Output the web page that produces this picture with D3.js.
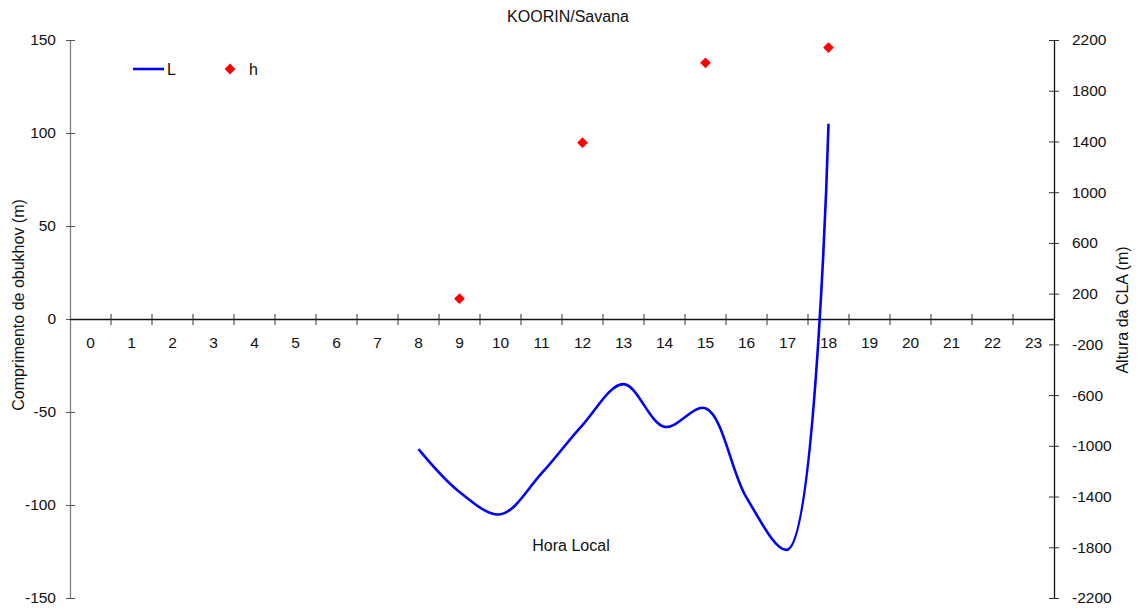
<!DOCTYPE html>
<html>
<head>
<meta charset="utf-8">
<script src="https://cdn.jsdelivr.net/npm/d3@7"></script>
<style>
  html, body { margin: 0; padding: 0; background: #fff; }
  svg { display: block; font-family: "Liberation Sans", Arial, sans-serif; }
</style>
</head>
<body>
<div id="chart"></div>
<script>
const width = 1138;
const height = 609;

// hours on the category axis
const hours = d3.range(0, 24).map(String);

// Obukhov length L (m), left axis
const lHours = ['8', '9', '10', '11', '12', '13', '14', '15', '16', '17', '18'];
const lValues = [-70, -93, -105, -83, -57, -35, -58, -48, -96, -124, 105];

// boundary layer height h (m), right axis
const hHours = ['9', '12', '15', '18'];
const hValues = [160, 1390, 2020, 2140];

const leftTicks = [-150, -100, -50, 0, 50, 100, 150];
const rightTicks = [-2200, -1800, -1400, -1000, -600, -200, 200, 600, 1000, 1400, 1800, 2200];

const plot = { left: 70, right: 1054, top: 40, bottom: 598 };
const tickFont = 15.5;
const labelFont = 16;

const svg = d3.select('#chart')
  .append('svg')
  .attr('width', width)
  .attr('height', height);

const x = d3.scaleBand()
  .domain(hours)
  .range([plot.left, plot.right])
  .padding(0);

const yL = d3.scaleLinear()
  .domain([-150, 150])
  .range([plot.bottom, plot.top]);

const yR = d3.scaleLinear()
  .domain([-2200, 2200])
  .range([plot.bottom, plot.top]);

const cx = h => x(h) + x.bandwidth() / 2;
const plain = d => String(d);

// left axis
const leftAxis = svg.append('g')
  .attr('transform', `translate(${plot.left},0)`)
  .call(d3.axisLeft(yL).tickValues(leftTicks).tickFormat(plain).tickSizeOuter(0).tickPadding(8));
leftAxis.select('.domain').attr('stroke', '#7f7f7f').attr('stroke-width', 1.3);
leftAxis.selectAll('.tick line').attr('x1', 5).attr('x2', -4).attr('stroke', '#555');
leftAxis.selectAll('.tick text')
  .attr('font-size', tickFont)
  .attr('fill', '#111')
  .attr('font-family', '"Liberation Sans", Arial, sans-serif');

// right axis
const rightAxis = svg.append('g')
  .attr('transform', `translate(${plot.right},0)`)
  .call(d3.axisRight(yR).tickValues(rightTicks).tickFormat(plain).tickSizeOuter(0).tickPadding(12));
rightAxis.select('.domain').attr('stroke', '#111').attr('stroke-width', 1.3);
rightAxis.selectAll('.tick line').attr('x1', -5).attr('x2', 5).attr('stroke', '#333');
rightAxis.selectAll('.tick text')
  .attr('font-size', tickFont)
  .attr('fill', '#111')
  .attr('font-family', '"Liberation Sans", Arial, sans-serif');

// category axis at L = 0
const y0 = yL(0);
const xAxis = svg.append('g')
  .attr('transform', `translate(0,${y0})`)
  .call(d3.axisBottom(x).tickSize(0).tickPadding(18));
xAxis.select('.domain').attr('stroke', '#111').attr('stroke-width', 1.3);
xAxis.selectAll('.tick text')
  .attr('font-size', tickFont)
  .attr('fill', '#111')
  .attr('font-family', '"Liberation Sans", Arial, sans-serif');

// category boundary ticks
xAxis.selectAll('.bound')
  .data(hours.slice(1))
  .enter()
  .append('line')
  .attr('class', 'bound')
  .attr('x1', d => x(d))
  .attr('x2', d => x(d))
  .attr('y1', -5)
  .attr('y2', 6)
  .attr('stroke', '#333');

// L line
const line = d3.line()
  .x((d, i) => cx(lHours[i]))
  .y(d => yL(d))
  .curve(d3.curveCatmullRom.alpha(0.5));

svg.append('path')
  .datum(lValues)
  .attr('d', line)
  .attr('fill', 'none')
  .attr('stroke', '#0000ff')
  .attr('stroke-width', 2.6);

// h diamonds
const diamond = d3.symbol().type(d3.symbolSquare).size(58);
svg.selectAll('.hpt')
  .data(hValues)
  .enter()
  .append('path')
  .attr('class', 'hpt')
  .attr('d', diamond)
  .attr('transform', (d, i) => `translate(${cx(hHours[i])},${yR(d)}) rotate(45)`)
  .attr('fill', '#ff0000');

// title and axis labels
svg.append('text')
  .attr('x', 568)
  .attr('y', 22)
  .attr('text-anchor', 'middle')
  .attr('font-size', labelFont)
  .attr('fill', '#111')
  .text('KOORIN/Savana');

svg.append('text')
  .attr('transform', 'translate(24,305) rotate(-90)')
  .attr('text-anchor', 'middle')
  .attr('font-size', labelFont)
  .attr('fill', '#111')
  .text('Comprimento de obukhov (m)');

svg.append('text')
  .attr('transform', 'translate(1128,310) rotate(-90)')
  .attr('text-anchor', 'middle')
  .attr('font-size', labelFont)
  .attr('fill', '#111')
  .text('Altura da CLA (m)');

svg.append('text')
  .attr('x', 571)
  .attr('y', 551)
  .attr('text-anchor', 'middle')
  .attr('font-size', labelFont)
  .attr('fill', '#111')
  .text('Hora Local');

// legend
const legend = svg.append('g');
legend.append('line')
  .attr('x1', 133).attr('x2', 164)
  .attr('y1', 69).attr('y2', 69)
  .attr('stroke', '#0000ff')
  .attr('stroke-width', 2.6);
legend.append('text')
  .attr('x', 167).attr('y', 75)
  .attr('font-size', labelFont)
  .attr('fill', '#111')
  .text('L');
legend.append('path')
  .attr('d', diamond)
  .attr('transform', 'translate(230,69) rotate(45)')
  .attr('fill', '#ff0000');
legend.append('text')
  .attr('x', 249).attr('y', 75)
  .attr('font-size', labelFont)
  .attr('fill', '#111')
  .text('h');
</script>
</body>
</html>
